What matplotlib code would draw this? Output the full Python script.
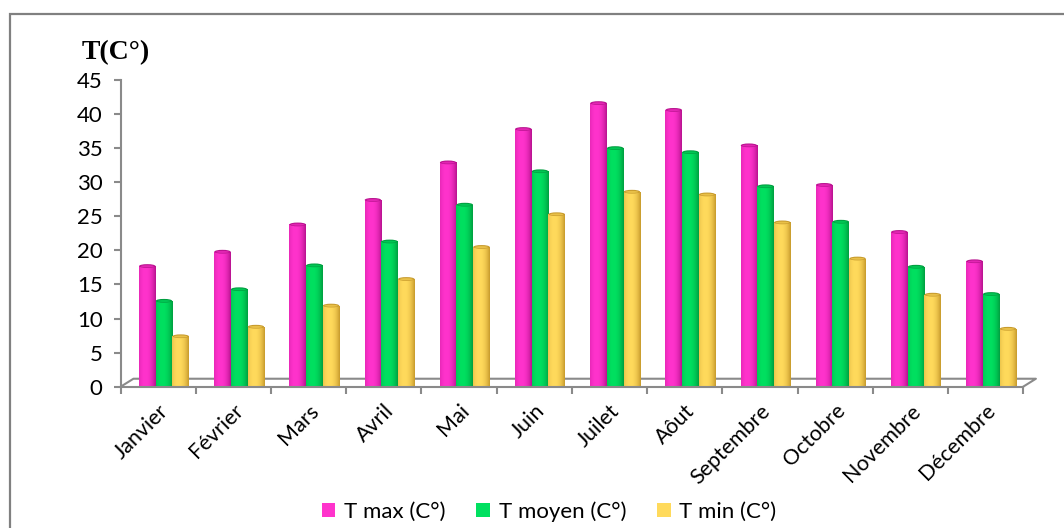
#!/usr/bin/env python3
"""Monthly temperature bar chart (T max / T moyen / T min)."""
import matplotlib
matplotlib.use("Agg")
import matplotlib.pyplot as plt
import numpy as np
from matplotlib.colors import to_rgb
from matplotlib.patches import Ellipse, Patch, Rectangle

months = ["Janvier", "Février", "Mars", "Avril", "Mai", "Juin", "Juilet",
          "Aôut", "Septembre", "Octobre", "Novembre", "Décembre"]
t_max = [17.7, 19.8, 23.8, 27.4, 32.9, 37.8, 41.6, 40.6, 35.4, 29.6, 22.7, 18.4]
t_moy = [12.6, 14.3, 17.8, 21.3, 26.7, 31.6, 35.0, 34.4, 29.4, 24.2, 17.6, 13.6]
t_min = [7.4, 8.8, 11.9, 15.8, 20.5, 25.3, 28.6, 28.2, 24.1, 18.8, 13.5, 8.5]
series_labels = ["T max (C°)", "T moyen (C°)", "T min (C°)"]
y_ticks = [0, 5, 10, 15, 20, 25, 30, 35, 40, 45]

colors = ["#FF33CC", "#00E060", "#FFDA5C"]
dark = ["#B8128E", "#009E40", "#C79A2C"]

plt.rcParams.update({
    "font.family": ["Lato", "DejaVu Sans"],
    "font.size": 16,
})

fig = plt.figure(figsize=(10.64, 5.28), dpi=100)
ax = fig.add_axes([0.1134, 0.2676, 0.8602, 0.5811])

GRAY = "#8a8a8a"
bar_w = 0.222
shift = 0.076
depth_x = 0.17
depth_y = 1.17

x = np.arange(len(months))
t = np.linspace(0, 1, 64)
profile = np.clip(np.abs(t - 0.38) / 0.62, 0, 1) ** 2.2

for k, vals in enumerate([t_max, t_moy, t_min]):
    xs = x + shift + (k - 1) * bar_w
    bars = ax.bar(xs, vals, width=bar_w, color=colors[k], linewidth=0, zorder=3)
    c0 = np.array(to_rgb(colors[k]))
    c1 = np.array(to_rgb(dark[k]))
    grad = (c0[None, :] * (1 - profile[:, None]) + c1[None, :] * profile[:, None])[None, :, :]
    for b, xc, v in zip(bars, xs, vals):
        im = ax.imshow(grad, extent=[xc - bar_w / 2, xc + bar_w / 2, 0, v],
                       aspect="auto", zorder=3.5, interpolation="bilinear")
        im.set_clip_path(b)
        ax.add_patch(Ellipse((xc, v), bar_w * 0.98, 0.55, facecolor=dark[k],
                             edgecolor="none", zorder=4))
        ax.add_patch(Ellipse((xc, v - 0.03), bar_w * 0.8, 0.3, facecolor=colors[k],
                             edgecolor="none", alpha=0.6, zorder=4.1))

n = len(months)
# 3D floor outline
ax.plot([-0.5, -0.5 + depth_x, n - 0.5 + depth_x, n - 0.5],
        [0, depth_y, depth_y, 0], color=GRAY, lw=1.5, zorder=2, clip_on=False)
ax.plot([-0.5, n - 0.5], [0, 0], color=GRAY, lw=1.5, zorder=5, clip_on=False)

ax.set_xlim(-0.5, n - 0.5 + depth_x)
ax.set_ylim(0, 45)

for side in ["top", "right", "bottom"]:
    ax.spines[side].set_visible(False)
ax.spines["left"].set_color(GRAY)
ax.spines["left"].set_linewidth(1.5)

ax.set_yticks(y_ticks)
ax.tick_params(axis="y", colors=GRAY, length=5, width=1.5, labelcolor="black", pad=8)
ax.set_xticks(np.arange(-0.5, n, 1.0))
ax.set_xticklabels([])
ax.tick_params(axis="x", which="major", colors=GRAY, length=5, width=1.5)
ax.set_xticks(x, minor=True)
ax.set_xticklabels(months, minor=True, rotation=45, ha="right",
                   rotation_mode="anchor", fontsize=15.5)
ax.tick_params(axis="x", which="minor", length=0, pad=10)

fig.text(0.077, 0.90, "T(C°)", family="Liberation Serif", fontweight="bold",
         fontsize=20, ha="left", va="center")

handles = [Patch(facecolor=c, edgecolor="none") for c in colors]
fig.legend(handles, series_labels, loc="lower center", bbox_to_anchor=(0.516, -0.026),
           ncol=3, frameon=False, fontsize=16, handlelength=0.6, handleheight=0.6,
           handletextpad=0.4, columnspacing=1.4)

fig.add_artist(Rectangle((0.0094, -0.1), 1.2, 0.9735 + 0.1, transform=fig.transFigure,
                         fill=False, edgecolor="#808080", linewidth=1.6))

fig.savefig("out.png", dpi=100)
